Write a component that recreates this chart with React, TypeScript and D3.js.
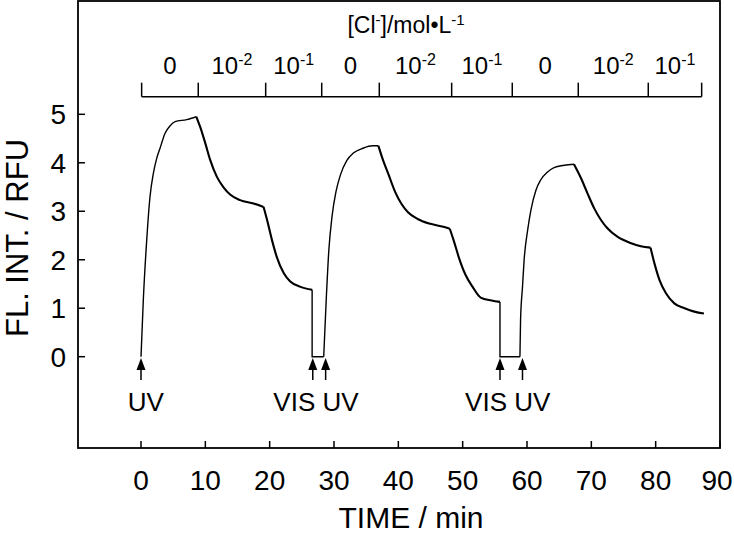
import React from "react";
import * as d3 from "d3";

// ---- data (time in min, fluorescence intensity in RFU) ----
const cycle1NoCl: [number, number][] = [
  [0, 0], [0.36, 1.17], [0.89, 2.41], [1.4, 3.3], [1.92, 3.78], [2.44, 4.09], [2.96, 4.3],
  [3.74, 4.61], [4.5, 4.76], [5.3, 4.85], [7.1, 4.89], [8.6, 4.95],
];
const cycle1Cl2: [number, number][] = [
  [8.6, 4.95], [9.2, 4.74], [10.0, 4.4], [10.75, 4.06], [11.8, 3.71], [12.8, 3.5],
  [13.9, 3.34], [15.4, 3.23], [17.5, 3.16], [19.05, 3.09],
];
const cycle1Cl1: [number, number][] = [
  [19.05, 3.09], [19.6, 2.82], [20.35, 2.41], [21.1, 2.06], [22.2, 1.72], [23.2, 1.55],
  [24.8, 1.44], [26.6, 1.38],
];
const cycle2NoCl: [number, number][] = [
  [28.4, 0], [28.8, 1.2], [29.2, 2.2], [29.7, 2.9], [30.3, 3.4], [31.0, 3.75], [32.0, 4.05],
  [33.0, 4.2], [34.5, 4.3], [36.0, 4.35], [36.9, 4.35],
];
const cycle2Cl2: [number, number][] = [
  [36.9, 4.35], [37.5, 4.1], [38.5, 3.75], [39.5, 3.4], [40.5, 3.15], [41.5, 2.98],
  [43.0, 2.84], [45.0, 2.74], [47.0, 2.68], [48.0, 2.64],
];
const cycle2Cl1: [number, number][] = [
  [48.0, 2.64], [48.6, 2.4], [49.4, 2.05], [50.4, 1.7], [51.5, 1.45], [52.8, 1.22],
  [54.5, 1.16], [55.8, 1.13],
];
const cycle3NoCl: [number, number][] = [
  [58.9, 0], [59.0, 0.76], [59.3, 1.44], [59.55, 1.99], [60.1, 2.61], [60.6, 3.02],
  [61.4, 3.44], [62.1, 3.64], [63.2, 3.81], [64.2, 3.9], [65.8, 3.95], [67.3, 3.97],
];
const cycle3Cl2: [number, number][] = [
  [67.3, 3.97], [68.4, 3.68], [69.4, 3.37], [70.45, 3.06], [71.5, 2.82], [72.5, 2.65],
  [74.1, 2.47], [76.2, 2.34], [77.7, 2.28], [79.2, 2.25],
];
const cycle3Cl1: [number, number][] = [
  [79.2, 2.25], [79.8, 1.93], [80.6, 1.58], [81.6, 1.31], [82.9, 1.1], [84.5, 1.0],
  [86.0, 0.93], [87.5, 0.89],
];
// dark (VIS) periods: [start, end] where signal is 0
const darkPeriods: [number, number][] = [[26.6, 28.4], [55.8, 58.9]];

const xTicks = [0, 10, 20, 30, 40, 50, 60, 70, 80, 90];
const yTicks = [0, 1, 2, 3, 4, 5];

// [Cl-] concentration bracket
const concBounds = [0.1, 8.9, 19.38, 28.09, 37.04, 48.29, 57.71, 67.97, 78.85, 87.15];
const concBase = ["0", "10", "10", "0", "10", "10", "0", "10", "10"];
const concExp = ["", "-2", "-1", "", "-2", "-1", "", "-2", "-1"];

// irradiation events
const arrowTimes = [0, 26.7, 28.7, 55.8, 59.3];
const eventLabels = ["UV", "VIS UV", "VIS UV"];
const eventLabelTimes = [0.75, 27.2, 57.0];

const FONT = "'Liberation Sans', Arial, Helvetica, sans-serif";

export default function App() {
  const x = d3.scaleLinear().domain([0, 90]).range([141, 720]);
  const y = d3.scaleLinear().domain([0, 5]).range([356.7, 114.3]);

  const smooth = d3
    .line<[number, number]>()
    .x((d) => x(d[0]))
    .y((d) => y(d[1]))
    .curve(d3.curveMonotoneX);
  const straight = d3
    .line<[number, number]>()
    .x((d) => x(d[0]))
    .y((d) => y(d[1]));

  const rises = [cycle1NoCl, cycle2NoCl, cycle3NoCl];
  const decays = [cycle1Cl2, cycle1Cl1, cycle2Cl2, cycle2Cl1, cycle3Cl2, cycle3Cl1];
  const lastVals = [cycle1Cl1[cycle1Cl1.length - 1][1], cycle2Cl1[cycle2Cl1.length - 1][1]];

  const frameL = 78, frameT = 1, frameR = 720, frameB = 448;
  const bracketY = 96.7;

  return (
    <svg width={734} height={536} style={{ position: "absolute", left: 0, top: 0, background: "#fff" }} fontFamily={FONT}>
      <rect x={0} y={0} width={734} height={536} fill="#fff" />
      {/* frame */}
      <rect x={frameL} y={frameT} width={frameR - frameL} height={frameB - frameT} fill="none" stroke="#000" strokeWidth={1.8} />
      {/* x ticks */}
      {xTicks.map((t) => (
        <g key={"xt" + t}>
          <line x1={x(t)} x2={x(t)} y1={frameB} y2={frameB - 7} stroke="#000" strokeWidth={1.5} />
          <text x={t === 90 ? x(t) - 3 : x(t)} y={490} fontSize={28} textAnchor="middle" fill="#000">{t}</text>
        </g>
      ))}
      {/* y ticks */}
      {yTicks.map((v) => (
        <g key={"yt" + v}>
          <line x1={frameL} x2={frameL + 7} y1={y(v)} y2={y(v)} stroke="#000" strokeWidth={1.5} />
          <text x={66} y={y(v) + 10} fontSize={28} textAnchor="end" fill="#000">{v}</text>
        </g>
      ))}
      {/* axis titles */}
      <text x={411} y={528} fontSize={30} textAnchor="middle" fill="#000">TIME / min</text>
      <text transform="translate(28,238) rotate(-90)" fontSize={31} textAnchor="middle" fill="#000">FL. INT. / RFU</text>

      {/* concentration bracket */}
      <text x={406} y={33} fontSize={23} textAnchor="middle" fill="#000">
        [Cl<tspan fontSize={15} dy={-8}>-</tspan>
        <tspan dy={8}>]/mol•L</tspan>
        <tspan fontSize={15} dy={-8}>-1</tspan>
      </text>
      <line x1={x(concBounds[0])} x2={x(concBounds[concBounds.length - 1])} y1={bracketY} y2={bracketY} stroke="#000" strokeWidth={1.5} />
      {concBounds.map((b, i) => (
        <line key={"cb" + i} x1={x(b)} x2={x(b)} y1={bracketY} y2={bracketY - 14} stroke="#000" strokeWidth={1.5} />
      ))}
      {concBase.map((lab, i) => {
        const cx = (x(concBounds[i]) + x(concBounds[i + 1])) / 2;
        return (
          <text key={"cl" + i} x={cx} y={74} fontSize={24} textAnchor="middle" fill="#000">
            {lab}
            {concExp[i] && (
              <tspan fontSize={16} dy={-9}>{concExp[i]}</tspan>
            )}
          </text>
        );
      })}

      {/* curve */}
      {rises.map((d, i) => (
        <path key={"r" + i} d={smooth(d) || ""} fill="none" stroke="#000" strokeWidth={1.4} />
      ))}
      {decays.map((d, i) => (
        <path key={"d" + i} d={smooth(d) || ""} fill="none" stroke="#000" strokeWidth={2.1} />
      ))}
      {darkPeriods.map((p, i) => (
        <path
          key={"dk" + i}
          d={straight([[p[0], lastVals[i]], [p[0], 0], [p[1], 0]]) || ""}
          fill="none"
          stroke="#000"
          strokeWidth={1.4}
        />
      ))}

      {/* arrows */}
      {arrowTimes.map((t, i) => {
        const ax = x(t);
        return (
          <g key={"ar" + i}>
            <line x1={ax} x2={ax} y1={368} y2={380} stroke="#000" strokeWidth={1.5} />
            <path d={`M${ax},358 L${ax - 4.5},370 L${ax + 4.5},370 Z`} fill="#000" />
          </g>
        );
      })}
      {eventLabels.map((lab, i) => (
        <text key={"ev" + i} x={x(eventLabelTimes[i])} y={411} fontSize={26} textAnchor="middle" fill="#000">{lab}</text>
      ))}
    </svg>
  );
}
